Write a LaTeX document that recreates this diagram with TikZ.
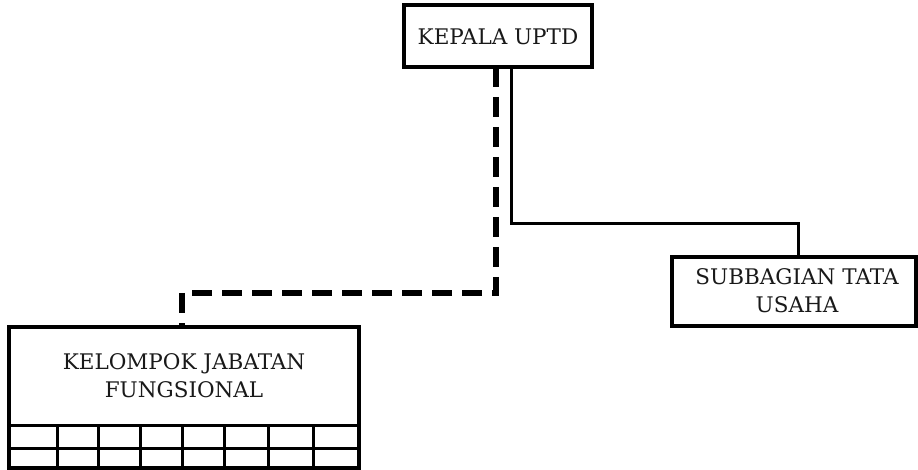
\documentclass[tikz,border=0pt]{standalone}
\usepackage{fontspec}
\setmainfont{DejaVu Serif}
\begin{document}
\begin{tikzpicture}[x=1pt,y=-1pt,
  box/.style={draw,line width=3.2pt,inner sep=0pt},
  lbl/.style={font=\fontsize{21.5}{28}\selectfont,align=center,text=black!90},
  solidline/.style={line width=3pt},
  dashline/.style={line width=5.5pt,dash pattern=on 20pt off 10pt}]
\useasboundingbox (0,0) rectangle (918,470);
% boxes
\draw[box] (404,5) rectangle (592,67);
\node[lbl] (kepala) at (498,37) {KEPALA UPTD};
\coordinate (kepalaA) at (496,67);
\coordinate (kepalaB) at (511,67);
\draw[box] (672,257) rectangle (916,326);
\node[lbl] (sub) at (797,291) {SUBBAGIAN TATA\\USAHA};
\coordinate (subT) at (798,257);
\draw[box] (9,327) rectangle (359,468);
\node[lbl] (kel) at (184,376) {KELOMPOK JABATAN\\FUNGSIONAL};
\coordinate (kelT) at (182,327);
% grid
\draw[line width=3pt] (9,425) -- (359,425) (9,448) -- (359,448);
\foreach \x in {57,98,140,182,224,268,313}
  \draw[line width=3pt] (\x,425) -- (\x,468);
% connectors
\draw[solidline] (kepalaB) -- (511,224) -- (798,224) -- (subT);
\draw[dashline] (kepalaA) -- (496,293) -- (182,293) -- (kelT);
\end{tikzpicture}
\end{document}
